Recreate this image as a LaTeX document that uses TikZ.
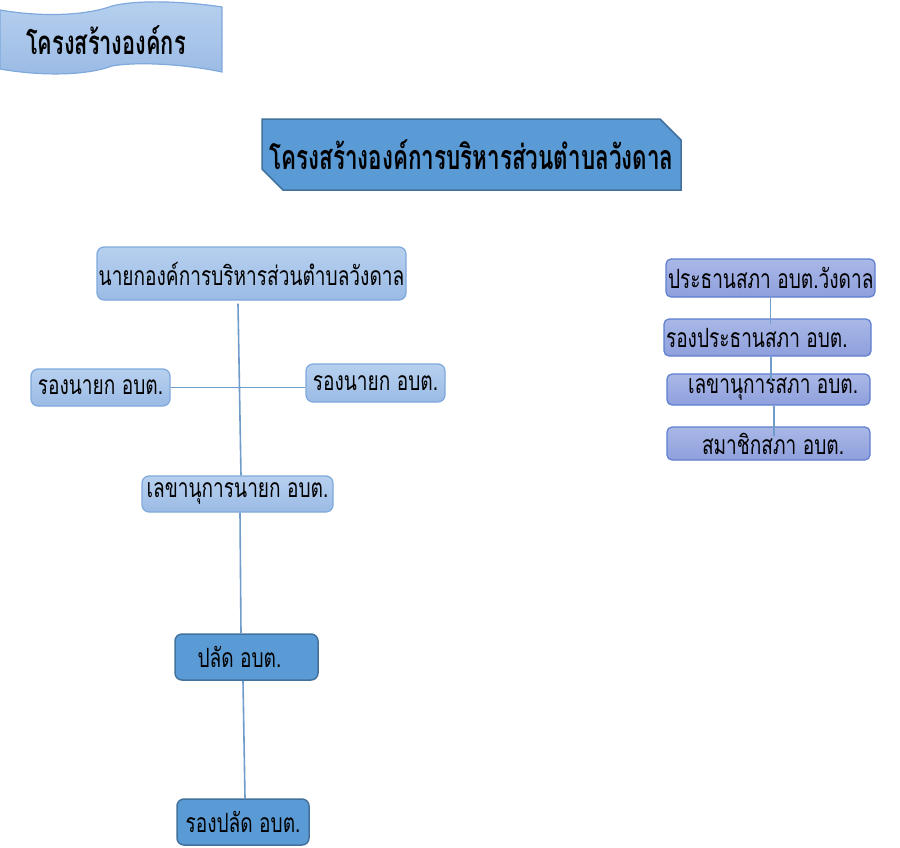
\documentclass[tikz,border=0pt]{standalone}
\usepackage{fontspec}
\setmainfont[Script=Thai,FakeStretch=0.72]{Loma}
\newfontfamily\thaibold[Script=Thai,FakeStretch=0.66]{Loma Bold}
\usepackage{tikz}
\usetikzlibrary{shapes.misc}
\definecolor{lightboxtop}{HTML}{B7D0EF}
\definecolor{lightboxbot}{HTML}{9BBBE5}
\definecolor{lightedge}{HTML}{7EA9DC}
\definecolor{lavtop}{HTML}{AAB8E7}
\definecolor{lavbot}{HTML}{8E9FDC}
\definecolor{lavedge}{HTML}{5E7ECF}
\definecolor{darkfill}{HTML}{5B9BD5}
\definecolor{darkedge}{HTML}{41719C}
\definecolor{linkcol}{HTML}{6F9CCB}
\tikzset{
	nayokbox/.style={rectangle,rounded corners=7pt,top color=lightboxtop,bottom color=lightboxbot,draw=lightedge,line width=1.2pt,inner sep=0pt,font=\fontsize{26.5}{30}\selectfont},
	sabhabox/.style={rectangle,rounded corners=5pt,top color=lavtop,bottom color=lavbot,draw=lavedge,line width=1.2pt,inner sep=2pt,font=\fontsize{26.5}{30}\selectfont},
	paladbox/.style={rectangle,rounded corners=7pt,fill=darkfill,draw=darkedge,line width=1.5pt,inner sep=0pt,font=\fontsize{26.5}{30}\selectfont},
	titlebox/.style={chamfered rectangle,chamfered rectangle corners={north east,south west},chamfered rectangle xsep=11pt,chamfered rectangle ysep=10pt,fill=darkfill,draw=darkedge,line width=1.5pt,inner sep=0pt,font=\thaibold\fontsize{34}{38}\selectfont},
	link/.style={draw=linkcol,line width=1.6pt},
}
\begin{document}
\begin{tikzpicture}[x=1pt,y=-1pt]
\fill[white] (0,0) rectangle (900,847);
\useasboundingbox (0,0) rectangle (900,847);
%BANNER
\shade[top color=lightboxtop,bottom color=lightboxbot,draw=lightedge,line width=1.2pt]
	(0,10) .. controls (40,17) and (85,16) .. (112,6) .. controls (140,-1) and (190,2) .. (222,7)
	-- (222,72) .. controls (190,65) and (140,61) .. (112,66) .. controls (85,76) and (40,76) .. (0,69) -- cycle;
\node (banner) at (106,40) {\thaibold\fontsize{33}{37}\selectfont โครงสร้างองค์กร};
%TITLE
\node[titlebox,minimum width=419pt,minimum height=71pt] (title) at (471.5,154.5) {\makebox[370pt]{โครงสร้างองค์การบริหารส่วนตำบลวังดาล}};
%NODI SINISTRA
\node[nayokbox,minimum width=309pt,minimum height=53pt] (nayok) at (251.5,273.5) {นายกองค์การบริหารส่วนตำบลวังดาล};
\node[nayokbox,minimum width=139pt,minimum height=37pt] (rongl) at (100.5,387.5) {รองนายก อบต.};
\node[nayokbox,minimum width=139pt,minimum height=38pt] (rongr) at (375.5,383) {รองนายก อบต.};
\node[nayokbox,minimum width=191pt,minimum height=36pt] (lekha) at (237.5,494) {เลขานุการนายก อบต.};
\node[paladbox,minimum width=143pt,minimum height=46pt] (palad) at (246.5,657) {\hspace*{-14pt}ปลัด อบต.};
\node[paladbox,minimum width=132pt,minimum height=46pt] (rongpalad) at (243,822) {รองปลัด อบต.};
%NODI DESTRA
\node[sabhabox,minimum width=209pt,minimum height=38pt] (prathan) at (770.5,278) {\makebox[205pt][l]{ประธานสภา อบต.วังดาล}};
\node[sabhabox,minimum width=207pt,minimum height=37pt] (rongprathan) at (767.5,337.5) {\makebox[203pt][l]{รองประธานสภา อบต.}};
\node[sabhabox,minimum width=203pt,minimum height=31pt] (lekhasapha) at (768.5,389.5) {\makebox[199pt][l]{\hspace*{19pt}เลขานุการสภา อบต.}};
\node[sabhabox,minimum width=203pt,minimum height=33pt] (samachik) at (768.5,443.5) {\makebox[199pt][l]{\hspace*{33pt}สมาชิกสภา อบต.}};
%LINEE
\draw[link] ([xshift=-13.5pt,yshift=-3pt]nayok.south) -- ([xshift=3.5pt]lekha.north);
\draw[link] (rongl.east) -- (rongl.east -| rongr.west);
\draw[link] ([xshift=2.5pt]lekha.south) -- ([xshift=-5.5pt]palad.north);
\draw[link] ([xshift=-3.5pt]palad.south) -- ([xshift=2pt]rongpalad.north);
\draw[link] (prathan.south) -- ([yshift=-6pt]prathan.south |- rongprathan.north);
\draw[link] ([xshift=3.5pt]rongprathan.south) -- ([xshift=3.5pt,yshift=-9pt]rongprathan.south |- lekhasapha.north);
\draw[link] ([xshift=5.5pt]lekhasapha.south) -- ([xshift=5.5pt,yshift=-10pt]lekhasapha.south |- samachik.north);
\end{tikzpicture}
\end{document}
